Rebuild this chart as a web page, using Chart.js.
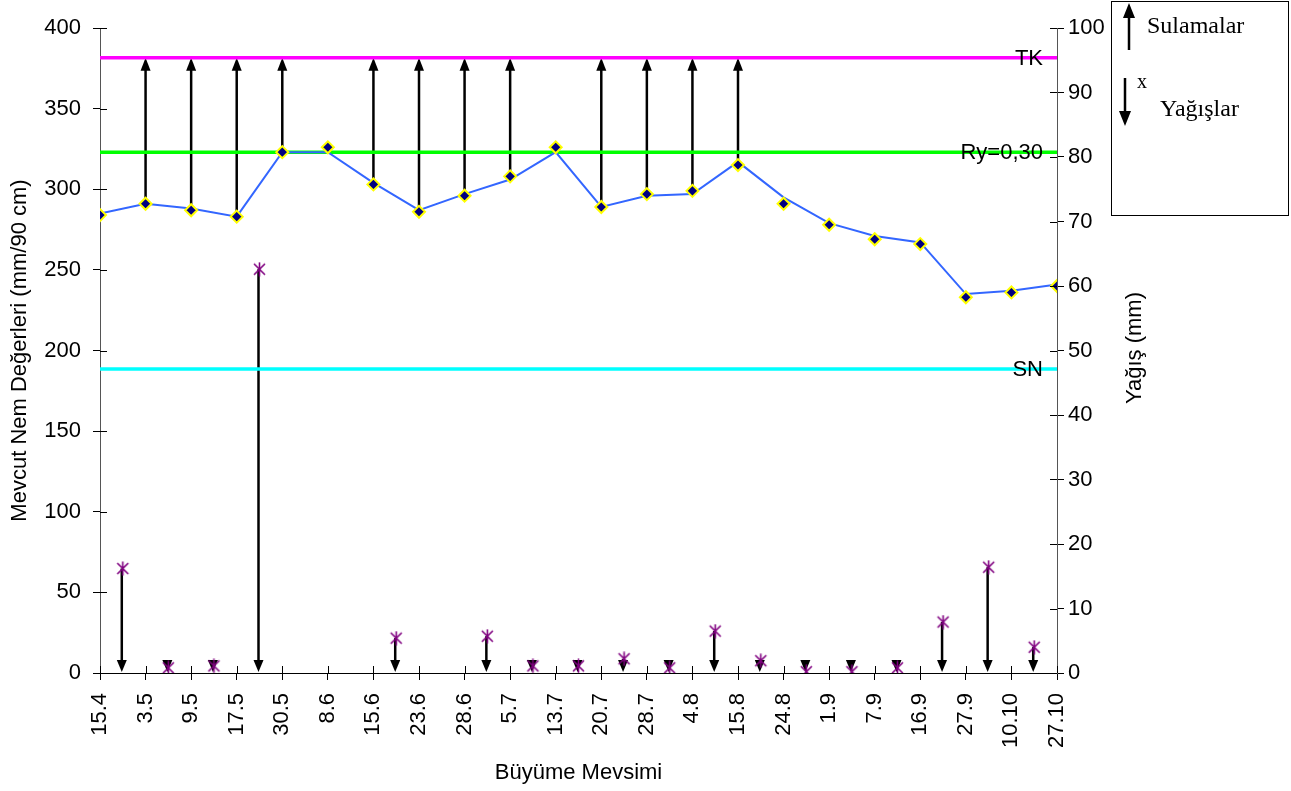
<!DOCTYPE html>
<html lang="tr">
<head>
<meta charset="UTF-8">
<title>Mevcut Nem ve Yağış</title>
<script src="https://cdn.jsdelivr.net/npm/chart.js"></script>
<style>
  html, body { margin: 0; padding: 0; background: #fff; }
  #wrap { width: 1291px; height: 791px; position: relative; }
</style>
</head>
<body>
<div id="wrap"><canvas id="nemChart" width="1291" height="791"></canvas></div>
<script>
// dates of the growing season (x axis)
const dateLabels = ['15.4', '3.5', '9.5', '17.5', '30.5', '8.6', '15.6', '23.6', '28.6', '5.7', '13.7',
  '20.7', '28.7', '4.8', '15.8', '24.8', '1.9', '7.9', '16.9', '27.9', '10.10', '27.10'];

// available moisture, mm / 90 cm (markers and the connecting line)
const nemPoints = [284, 291, 287, 283, 323, 326, 303, 286, 296, 308, 326, 289, 297, 299, 315, 291, 278, 269, 266, 233, 236, 240];
const nemLine = [285, 291, 288, 283, 323, 323, 304, 287, 297, 306, 323, 289, 296, 297, 317, 295, 279, 271, 267, 235, 237, 241];

// rainfall (mm), falls between date i and i+1
const rainAfter = [0, 1, 2, 3, 6, 8, 9, 10, 11, 12, 13, 14, 15, 16, 17, 18, 19, 20];
const rainValues = [16.2, 0.8, 1.1, 62.6, 5.4, 5.7, 1.1, 1.1, 2.2, 0.8, 6.5, 1.9, 0.2, 0.2, 0.8, 7.9, 16.4, 4.0];

// irrigations (index of date), filled up to TK
const irrigationDays = [1, 2, 3, 4, 6, 7, 8, 9, 11, 12, 13, 14];

// reference levels
const levelNames = ['TK', 'Ry=0,30', 'SN'];
const levelValues = [381.5, 323, 188.5];
const levelColors = ['#ff00ff', '#00ff00', '#00ffff'];

const FONT = "'Liberation Sans', Arial, sans-serif";
const SERIF = "'Liberation Serif', 'Times New Roman', serif";

// excel like star marker (x with a vertical bar)
function starMarker() {
  const c = document.createElement('canvas');
  c.width = 15; c.height = 15;
  const g = c.getContext('2d');
  g.strokeStyle = '#800080';
  g.lineWidth = 1.6;
  g.beginPath();
  g.moveTo(2, 2); g.lineTo(13, 13);
  g.moveTo(13, 2); g.lineTo(2, 13);
  g.moveTo(7.5, 0.5); g.lineTo(7.5, 14.5);
  g.stroke();
  return c;
}

function arrow(ctx, x, y1, y2, head, width) {
  // shaft from y1 to y2, head at y2
  const dir = y2 > y1 ? 1 : -1;
  ctx.beginPath();
  ctx.moveTo(x, y1);
  ctx.lineTo(x, y2 - dir * head * 0.8);
  ctx.stroke();
  ctx.beginPath();
  ctx.moveTo(x, y2);
  ctx.lineTo(x - width / 2, y2 - dir * head);
  ctx.lineTo(x + width / 2, y2 - dir * head);
  ctx.closePath();
  ctx.fill();
}

const levelDatasets = levelValues.map((v, i) => ({
  label: levelNames[i],
  data: [{ x: 0, y: v }, { x: dateLabels.length - 1, y: v }],
  borderColor: levelColors[i],
  borderWidth: 3.5,
  pointRadius: 0,
  yAxisID: 'y',
  order: 5
}));

const arrowsPlugin = {
  id: 'arrows',
  beforeDatasetsDraw(chart) {
    const { ctx, scales } = chart;
    const x = scales.x, y = scales.y, y1 = scales.y1;
    ctx.save();
    ctx.strokeStyle = '#000';
    ctx.fillStyle = '#000';
    ctx.lineWidth = 2.5;
    // irrigation arrows
    irrigationDays.forEach(i => {
      const px = x.getPixelForValue(i);
      arrow(ctx, px, y.getPixelForValue(nemPoints[i]), y.getPixelForValue(levelValues[0]), 13, 10);
    });
    // rainfall arrows
    const base = y1.getPixelForValue(0);
    rainAfter.forEach((d, k) => {
      const px = x.getPixelForValue(d + 0.5) - 1;
      const top = Math.min(y1.getPixelForValue(rainValues[k]), base - 13);
      arrow(ctx, px, top, base - 1, 12, 10);
    });
    ctx.restore();
  },
  afterDraw(chart) {
    const { ctx, scales, chartArea } = chart;
    const x = scales.x, y = scales.y, y1 = scales.y1;
    ctx.save();
    // inner half of the crossing tick marks
    ctx.strokeStyle = '#000';
    ctx.lineWidth = 1;
    ctx.beginPath();
    x.ticks.forEach(t => {
      const px = Math.round(x.getPixelForValue(t.value)) + 0.5;
      ctx.moveTo(px, chartArea.bottom); ctx.lineTo(px, chartArea.bottom - 7);
    });
    y.ticks.forEach(t => {
      const py = Math.round(y.getPixelForValue(t.value)) + 0.5;
      ctx.moveTo(chartArea.left, py); ctx.lineTo(chartArea.left + 7, py);
    });
    y1.ticks.forEach(t => {
      const py = Math.round(y1.getPixelForValue(t.value)) + 0.5;
      ctx.moveTo(chartArea.right, py); ctx.lineTo(chartArea.right - 7, py);
    });
    ctx.stroke();

    // level labels
    ctx.fillStyle = '#000';
    ctx.font = '22px ' + FONT;
    ctx.textAlign = 'right';
    ctx.textBaseline = 'middle';
    levelValues.forEach((v, i) => {
      ctx.fillText(levelNames[i], chartArea.right - 14, y.getPixelForValue(v) + 1);
    });

    // right axis title
    ctx.save();
    ctx.translate(1135, 348);
    ctx.rotate(-Math.PI / 2);
    ctx.textAlign = 'center';
    ctx.fillText('Yağış (mm)', 0, 0);
    ctx.restore();

    // legend box
    ctx.strokeStyle = '#000';
    ctx.lineWidth = 1;
    ctx.strokeRect(1111.5, 1.5, 177, 214);
    ctx.lineWidth = 2.5;
    arrow(ctx, 1129, 50, 3, 15, 12);
    arrow(ctx, 1125, 78, 126, 15, 12);
    ctx.font = '24px ' + SERIF;
    ctx.textAlign = 'left';
    ctx.fillText('Sulamalar', 1147, 27);
    ctx.fillText('Yağışlar', 1160, 110);
    ctx.font = '20px ' + SERIF;
    ctx.fillText('x', 1137, 83);
    ctx.restore();
  }
};

const ctx = document.getElementById('nemChart').getContext('2d');
const nemChart = new Chart(ctx, {
  type: 'line',
  data: {
    datasets: [
      {
        label: 'Nem',
        data: nemPoints.map((v, i) => ({ x: i, y: v })),
        showLine: false,
        pointStyle: 'rectRot',
        pointRadius: 6,
        pointBackgroundColor: '#000080',
        pointBorderColor: '#ffff00',
        pointBorderWidth: 2,
        yAxisID: 'y',
        order: 1
      },
      {
        label: 'Nem çizgi',
        data: nemLine.map((v, i) => ({ x: i, y: v })),
        borderColor: '#3366ff',
        borderWidth: 2,
        pointRadius: 0,
        yAxisID: 'y',
        order: 3
      },
      {
        label: 'Yağış',
        data: rainValues.map((v, k) => ({ x: rainAfter[k] + 0.5, y: v })),
        showLine: false,
        pointStyle: starMarker(),
        yAxisID: 'y1',
        order: 2
      },
      ...levelDatasets
    ]
  },
  options: {
    responsive: false,
    animation: false,
    layout: { padding: { top: 28, left: 0, right: 134, bottom: 0 } },
    plugins: {
      legend: { display: false },
      tooltip: { enabled: false }
    },
    scales: {
      x: {
        type: 'linear',
        min: 0,
        max: dateLabels.length - 1,
        afterFit: s => { s.height = 118; },
        ticks: {
          stepSize: 1,
          autoSkip: false,
          maxRotation: 90,
          minRotation: 90,
          padding: 13,
          color: '#000',
          font: { family: FONT, size: 22 },
          callback: v => dateLabels[v]
        },
        grid: { drawOnChartArea: false, tickLength: 7, color: '#000' },
        border: { color: '#000', width: 1 },
        title: {
          display: true,
          text: 'Büyüme Mevsimi',
          color: '#000',
          font: { family: FONT, size: 22 },
          padding: { top: 0, bottom: 5 }
        }
      },
      y: {
        position: 'left',
        min: 0,
        max: 400,
        afterFit: s => { s.width = 100; },
        ticks: {
          stepSize: 50,
          padding: 12,
          color: '#000',
          font: { family: FONT, size: 22 }
        },
        grid: { drawOnChartArea: false, tickLength: 7, color: '#000' },
        border: { color: '#555', width: 1 },
        title: {
          display: true,
          text: 'Mevcut Nem Değerleri (mm/90 cm)',
          color: '#000',
          font: { family: FONT, size: 22 },
          padding: { top: 7, bottom: 0 }
        }
      },
      y1: {
        position: 'right',
        min: 0,
        max: 100,
        afterFit: s => { s.width = 100; },
        ticks: {
          stepSize: 10,
          padding: 4,
          color: '#000',
          font: { family: FONT, size: 22 }
        },
        grid: { drawOnChartArea: false, tickLength: 7, color: '#000' },
        border: { color: '#555', width: 1 }
      }
    }
  },
  plugins: [arrowsPlugin]
});
</script>
</body>
</html>
